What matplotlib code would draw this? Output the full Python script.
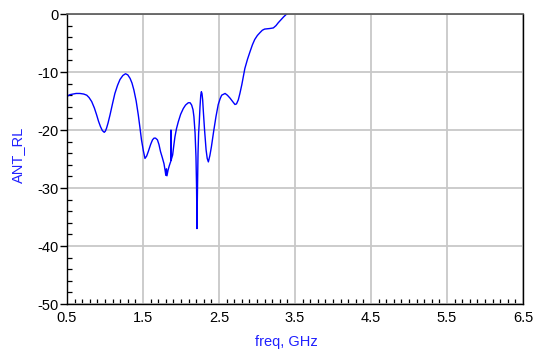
import matplotlib
matplotlib.use("Agg")
import matplotlib.pyplot as plt
from matplotlib.ticker import MultipleLocator

plt.rcParams['font.family'] = ['Liberation Sans', 'DejaVu Sans']

# Antenna return loss vs frequency
freq_ghz = [0.50, 0.54, 0.58, 0.62, 0.67, 0.72, 0.76, 0.79, 0.825, 0.86, 0.89,
            0.915, 0.94, 0.965, 0.99, 1.005, 1.02, 1.04, 1.066, 1.10, 1.13,
            1.165, 1.197, 1.235, 1.27, 1.30, 1.33, 1.355, 1.38, 1.41, 1.438,
            1.46, 1.48, 1.505, 1.526, 1.548, 1.57, 1.60, 1.625, 1.645, 1.665,
            1.69, 1.71, 1.73, 1.755, 1.776, 1.79, 1.80, 1.808, 1.815, 1.83,
            1.845, 1.860, 1.866, 1.868, 1.870, 1.89, 1.905, 1.92, 1.94, 1.964,
            1.995, 2.03, 2.06, 2.096, 2.12, 2.14, 2.158, 2.17, 2.185, 2.197,
            2.205, 2.210, 2.216, 2.224, 2.232, 2.24, 2.25, 2.26, 2.268, 2.276,
            2.285, 2.293, 2.31, 2.33, 2.345, 2.36, 2.38, 2.40, 2.43, 2.46,
            2.49, 2.515, 2.535, 2.58, 2.61, 2.645, 2.68, 2.71, 2.73, 2.754,
            2.775, 2.80, 2.82, 2.84, 2.875, 2.908, 2.94, 2.97, 3.005, 3.04,
            3.07, 3.10, 3.17, 3.215, 3.25, 3.28, 3.315, 3.35, 3.39, 3.43]
ant_rl_db = [-14.2, -13.9, -13.8, -13.7, -13.7, -13.8, -14.0, -14.4, -15.1, -16.2, -17.4,
             -18.5, -19.4, -20.1, -20.4, -20.2, -19.7, -18.8, -17.4, -15.4, -13.7,
             -12.3, -11.3, -10.6, -10.3, -10.5, -11.1, -11.9, -13.1, -15.0, -17.4,
             -19.6, -21.7, -23.6, -24.9, -24.5, -23.7, -22.5, -21.7, -21.4, -21.4,
             -21.7, -22.5, -23.7, -24.8, -25.8, -26.9, -27.8, -26.7, -27.9, -26.9,
             -26.2, -25.6, -25.4, -20.0, -25.2, -24.3, -22.7, -21.2, -19.8, -18.6,
             -17.3, -16.3, -15.7, -15.3, -15.3, -15.7, -16.5, -17.7, -20.5, -24.6,
             -30.0, -37.0, -31.0, -24.0, -20.5, -18.8, -16.0, -14.0, -13.4, -13.7,
             -14.8, -16.6, -20.0, -23.4, -24.9, -25.5, -24.4, -22.9, -20.2, -17.7,
             -15.6, -14.6, -14.0, -13.7, -14.0, -14.5, -15.1, -15.6, -15.5, -14.8,
             -13.7, -12.2, -10.8, -9.4, -7.8, -6.5, -5.3, -4.4, -3.7, -3.2,
             -2.8, -2.6, -2.5, -2.4, -2.0, -1.5, -1.0, -0.5, 0.0, 0.3]

x_ticks = [0.5, 1.5, 2.5, 3.5, 4.5, 5.5, 6.5]
y_ticks = [0, -10, -20, -30, -40, -50]

fig = plt.figure(figsize=(5.4, 3.54), dpi=100)
ax = fig.add_axes([67/540, 1 - 304/354, (523 - 67)/540, (304 - 14)/354])

ax.plot(freq_ghz, ant_rl_db, color='#0000ff', lw=1.0)

ax.set_xlim(0.5, 6.5)
ax.set_ylim(-50, 0)
ax.set_xticks(x_ticks)
ax.set_xticklabels([f"{t:.1f}" for t in x_ticks])
ax.set_yticks(y_ticks)
ax.set_yticklabels([f"{t:d}" for t in y_ticks])
ax.xaxis.set_minor_locator(MultipleLocator(0.1))
ax.yaxis.set_minor_locator(MultipleLocator(2))

ax.grid(True, which='major', color='#c8c8c8', lw=1.3)
ax.set_axisbelow(True)

ax.tick_params(axis='x', which='major', direction='in', length=0,
               labelsize=10.5, colors='black', pad=5)
ax.tick_params(axis='y', which='major', direction='out', length=5, width=1,
               labelsize=10.5, colors='black', pad=1)
ax.tick_params(which='minor', direction='in', length=3.5, width=0.9)

for side in ('left', 'bottom', 'right'):
    ax.spines[side].set_color('black')
    ax.spines[side].set_linewidth(1.0)
ax.spines['top'].set_color('#555555')
ax.spines['top'].set_linewidth(1.2)

ax.set_xlabel('freq, GHz', color='#2020ff', fontsize=10.5)
ax.set_ylabel('ANT_RL', color='#2020ff', fontsize=10.5)
ax.xaxis.set_label_coords(0.48, -0.108)
ax.yaxis.set_label_coords(-0.092, 0.514)

fig.savefig('out.png', dpi=100)
